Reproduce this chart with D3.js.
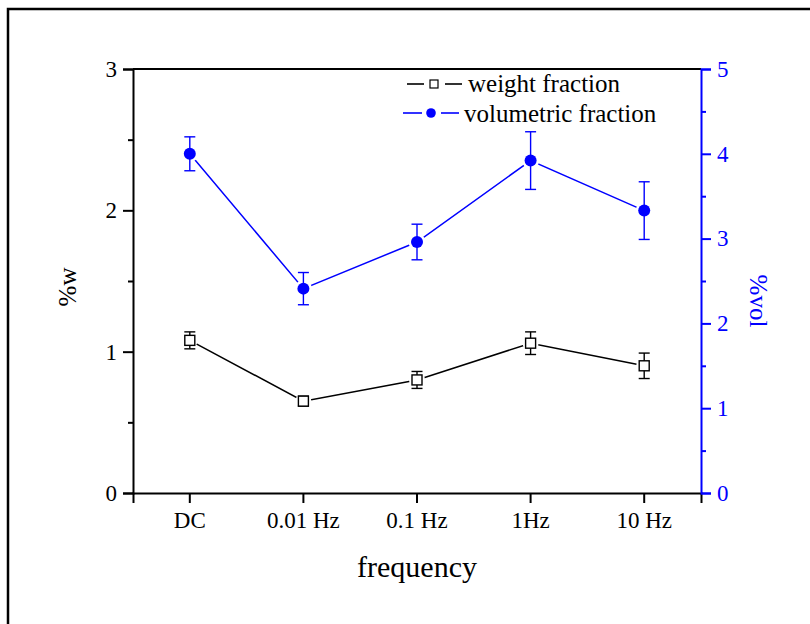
<!DOCTYPE html>
<html>
<head>
<meta charset="utf-8">
<script src="https://cdn.jsdelivr.net/npm/d3@7"></script>
<style>
  html, body { margin: 0; padding: 0; background: #fff; }
  svg { display: block; }
  text { font-family: "Liberation Serif", "DejaVu Serif", serif; }
</style>
</head>
<body>
<svg id="chart" width="810" height="624"></svg>
<script>
// Frequency conditions on the x axis
const categories = ["DC", "0.01 Hz", "0.1 Hz", "1Hz", "10 Hz"];
// Weight fraction (%w, left axis) with error
const weightFraction = [1.08, 0.65, 0.80, 1.06, 0.90];
const weightErr = [0.06, 0.035, 0.06, 0.08, 0.09];
// Volumetric fraction (%vol, right axis) with error
const volFraction = [4.00, 2.41, 2.96, 3.92, 3.33];
const volErr = [0.20, 0.19, 0.21, 0.34, 0.34];
// Axis ticks
const leftTicks = [0, 1, 2, 3];
const leftMinor = [0.5, 1.5, 2.5];
const rightTicks = [0, 1, 2, 3, 4, 5];
const rightMinor = [0.5, 1.5, 2.5, 3.5, 4.5];

const BLUE = "#0000ff";
const svg = d3.select("#chart");

// outer frame
svg.append("rect")
  .attr("x", 8).attr("y", 9).attr("width", 900).attr("height", 800)
  .attr("fill", "none").attr("stroke", "#000").attr("stroke-width", 2.5);

const plotL = 133, plotR = 701, plotT = 69, plotB = 493;

const x = d3.scaleBand().domain(categories).range([plotL, plotR]).padding(0);
const yL = d3.scaleLinear().domain([0, 3]).range([plotB, plotT]);
const yR = d3.scaleLinear().domain([0, 5]).range([plotB, plotT]);
const cx = d => x(d) + x.bandwidth() / 2;

// top frame line
svg.append("line")
  .attr("x1", plotL).attr("x2", plotR).attr("y1", plotT).attr("y2", plotT)
  .attr("stroke", "#000").attr("stroke-width", 2);

// x axis
const gx = svg.append("g").attr("transform", `translate(0,${plotB})`)
  .call(d3.axisBottom(x).tickSizeOuter(0).tickSize(10).tickPadding(9));
gx.select(".domain").attr("stroke-width", 2);
gx.selectAll(".tick line").attr("stroke-width", 2);
gx.selectAll(".tick text").attr("font-size", 23).attr("fill", "#000")
  .attr("font-family", "Liberation Serif");

// left axis
const gyL = svg.append("g").attr("transform", `translate(${plotL},0)`);
gyL.call(d3.axisLeft(yL).tickValues(leftTicks).tickFormat(d3.format("d"))
  .tickSizeOuter(0).tickSize(10).tickPadding(6));
gyL.append("g").call(d3.axisLeft(yL).tickValues(leftMinor).tickFormat("")
  .tickSizeOuter(0).tickSize(5)).select(".domain").remove();
gyL.selectAll(".domain").attr("stroke-width", 2);
gyL.selectAll(".tick line").attr("stroke-width", 2);
gyL.selectAll(".tick text").attr("font-size", 23).attr("fill", "#000")
  .attr("font-family", "Liberation Serif");

// right axis
const gyR = svg.append("g").attr("transform", `translate(${plotR},0)`);
gyR.call(d3.axisRight(yR).tickValues(rightTicks).tickFormat(d3.format("d"))
  .tickSizeOuter(0).tickSize(10).tickPadding(6));
gyR.append("g").call(d3.axisRight(yR).tickValues(rightMinor).tickFormat("")
  .tickSizeOuter(0).tickSize(5)).select(".domain").remove();
gyR.selectAll(".domain").attr("stroke", BLUE).attr("stroke-width", 2);
gyR.selectAll(".tick line").attr("stroke", BLUE).attr("stroke-width", 2);
gyR.selectAll(".tick text").attr("font-size", 23).attr("fill", BLUE)
  .attr("font-family", "Liberation Serif");

// axis titles
svg.append("text").attr("x", (plotL + plotR) / 2).attr("y", 577)
  .attr("text-anchor", "middle").attr("font-size", 30).text("frequency");
svg.append("text").attr("transform", "translate(76,287) rotate(-90)")
  .attr("text-anchor", "middle").attr("font-size", 25).text("%w");
svg.append("text").attr("transform", "translate(750,301) rotate(90)")
  .attr("text-anchor", "middle").attr("font-size", 25).attr("fill", BLUE).text("%vol");

// draws one series: connecting line, gap halos, error bars, markers
function drawSeries(values, errs, yScale, color, marker) {
  const g = svg.append("g");
  const pts = categories.map((c, i) => ({ c, v: values[i], e: errs[i] }));
  g.append("path").datum(pts)
    .attr("d", d3.line().x(d => cx(d.c)).y(d => yScale(d.v)))
    .attr("fill", "none").attr("stroke", color).attr("stroke-width", 1.5);
  // white halo leaves a small gap where the line meets each marker
  g.selectAll(".halo").data(pts).join("circle")
    .attr("cx", d => cx(d.c)).attr("cy", d => yScale(d.v))
    .attr("r", marker === "circle" ? 8.5 : 8).attr("fill", "#fff");
  const eb = g.selectAll(".eb").data(pts).join("g").attr("stroke", color).attr("stroke-width", 1.4);
  eb.append("line").attr("x1", d => cx(d.c)).attr("x2", d => cx(d.c))
    .attr("y1", d => yScale(d.v - d.e)).attr("y2", d => yScale(d.v + d.e));
  eb.append("line").attr("x1", d => cx(d.c) - 5.5).attr("x2", d => cx(d.c) + 5.5)
    .attr("y1", d => yScale(d.v - d.e)).attr("y2", d => yScale(d.v - d.e));
  eb.append("line").attr("x1", d => cx(d.c) - 5.5).attr("x2", d => cx(d.c) + 5.5)
    .attr("y1", d => yScale(d.v + d.e)).attr("y2", d => yScale(d.v + d.e));
  if (marker === "circle") {
    g.selectAll(".mk").data(pts).join("circle")
      .attr("cx", d => cx(d.c)).attr("cy", d => yScale(d.v)).attr("r", 6)
      .attr("fill", color);
  } else {
    g.selectAll(".mk").data(pts).join("rect")
      .attr("x", d => cx(d.c) - 5).attr("y", d => yScale(d.v) - 5)
      .attr("width", 10).attr("height", 10)
      .attr("fill", "#fff").attr("stroke", color).attr("stroke-width", 1.4);
  }
}

drawSeries(weightFraction, weightErr, yL, "#000", "square");
drawSeries(volFraction, volErr, yR, BLUE, "circle");

// legend
const lg = svg.append("g");
lg.append("line").attr("x1", 407).attr("x2", 424).attr("y1", 84).attr("y2", 84)
  .attr("stroke", "#000").attr("stroke-width", 1.6);
lg.append("line").attr("x1", 445).attr("x2", 462).attr("y1", 84).attr("y2", 84)
  .attr("stroke", "#000").attr("stroke-width", 1.6);
lg.append("rect").attr("x", 430).attr("y", 80).attr("width", 8).attr("height", 8)
  .attr("fill", "#fff").attr("stroke", "#000").attr("stroke-width", 1.2);
lg.append("text").attr("x", 468).attr("y", 92).attr("font-size", 25).text("weight fraction");

lg.append("line").attr("x1", 403).attr("x2", 422).attr("y1", 113).attr("y2", 113)
  .attr("stroke", BLUE).attr("stroke-width", 1.6);
lg.append("line").attr("x1", 441).attr("x2", 459).attr("y1", 113).attr("y2", 113)
  .attr("stroke", BLUE).attr("stroke-width", 1.6);
lg.append("circle").attr("cx", 431).attr("cy", 113).attr("r", 4.8).attr("fill", BLUE);
lg.append("text").attr("x", 464).attr("y", 122).attr("font-size", 25).text("volumetric fraction");
</script>
</body>
</html>
